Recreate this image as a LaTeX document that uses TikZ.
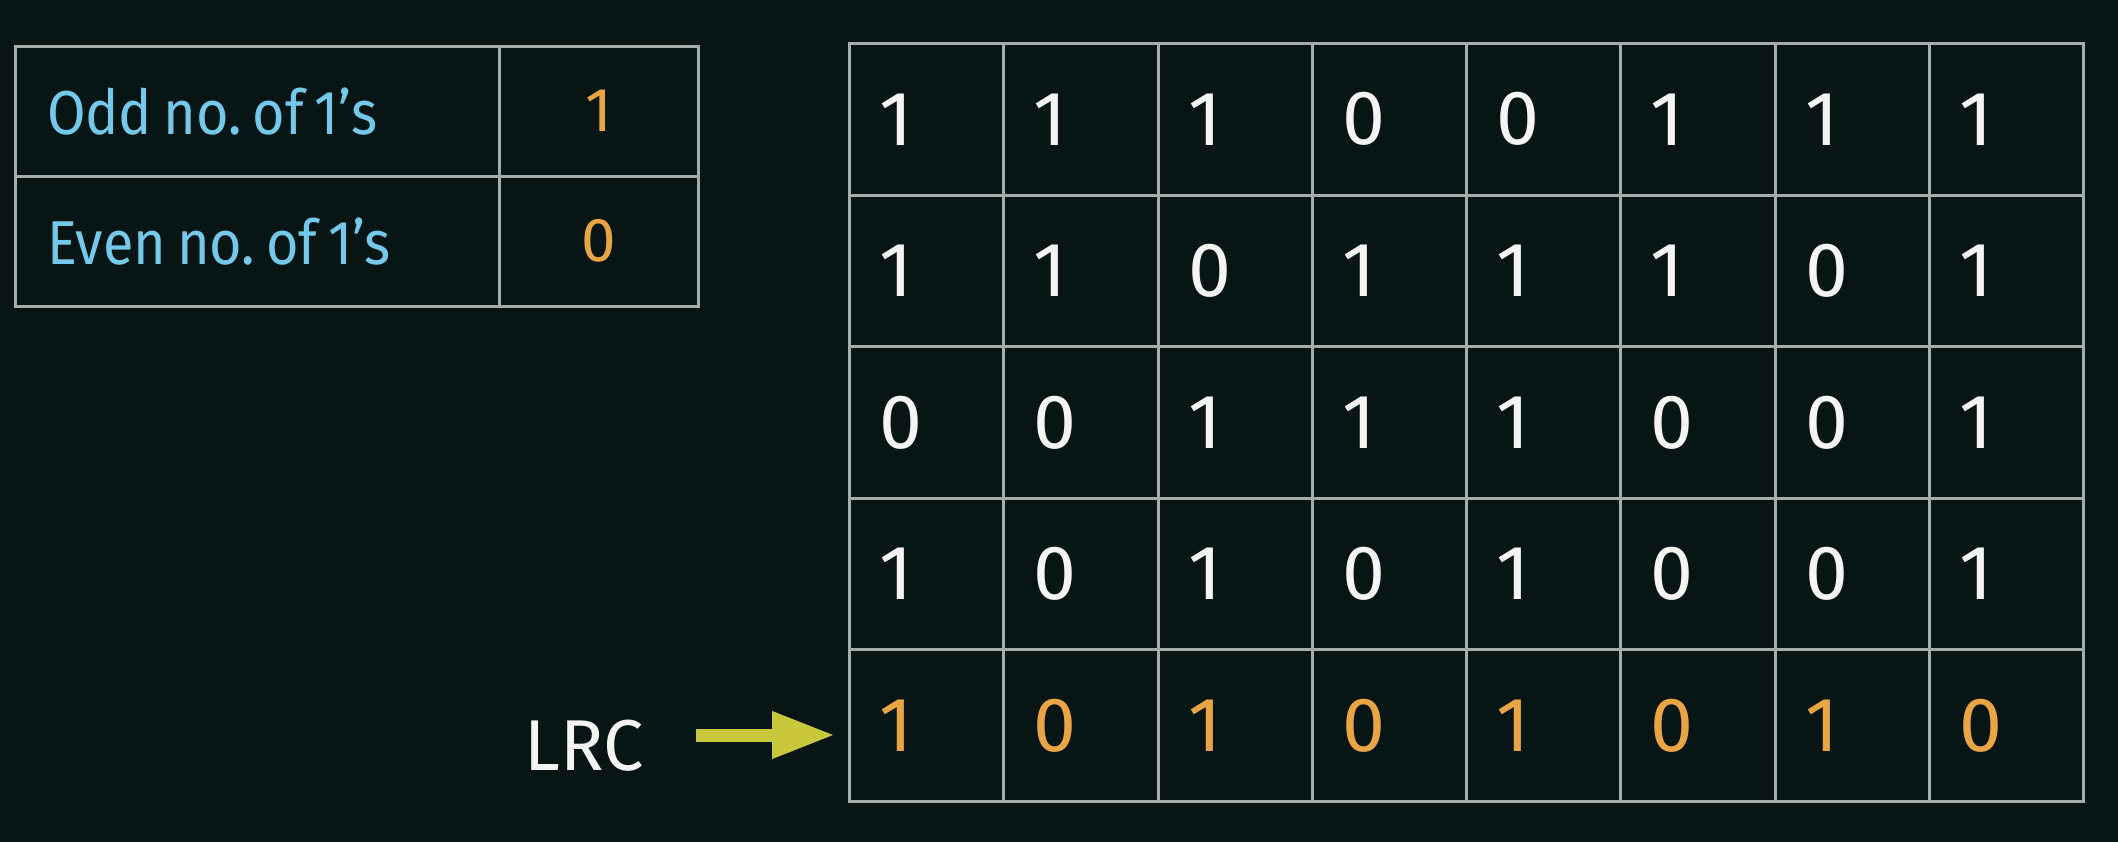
\documentclass[tikz,border=0pt]{standalone}
\usepackage{fontspec}
\setmainfont{Fira Sans}
\newfontfamily\lblfont[FakeStretch=0.9]{Fira Sans}
\newcommand\tightwords{\spaceskip=11pt\relax}
\frenchspacing
\usetikzlibrary{arrows.meta}
\definecolor{bg}{HTML}{081515}
\definecolor{gridc}{HTML}{A3ADAA}
\definecolor{orng}{HTML}{E9A444}
\definecolor{lblue}{HTML}{74C8EA}
\definecolor{ylw}{HTML}{C9C83C}
\definecolor{wht}{HTML}{F4F4F2}
\begin{document}
\begin{tikzpicture}[x=1pt,y=-1pt,
  cell/.style={draw=gridc, line width=3pt, minimum width=154.25pt, minimum height=151.6pt,
    inner xsep=30pt, inner ysep=0pt, text width=94.25pt, align=left, anchor=north west,
    font=\fontsize{77pt}{80pt}\selectfont, text=wht},
  lrccell/.style={cell, text=orng},
  lblcell/.style={draw=gridc, line width=3pt, minimum width=484.5pt, minimum height=130pt,
    inner xsep=32pt, inner ysep=0pt, text width=420.5pt, align=left, anchor=north west,
    font=\lblfont\fontsize{62pt}{66pt}\selectfont, text=lblue},
  valcell/.style={draw=gridc, line width=3pt, minimum width=199pt, minimum height=130pt,
    inner sep=0pt, anchor=north west, font=\fontsize{62pt}{66pt}\selectfont, text=orng},
  lrcarrow/.style={draw=ylw, line width=13pt, -{Triangle[width=44pt,length=63pt]}, shorten >=13pt}
]
\fill[bg] (0,0) rectangle (2118,842);
\useasboundingbox (0,0) rectangle (2118,842);

% left table
\node[lblcell] (odd)  at (13.5,44.6) {\tightwords Odd no. of 1’s};
\node[valcell] (oddv) at (498,44.6) {1};
\node[lblcell] (even) at (13.5,174.6) {\tightwords Even no. of 1’s};
\node[valcell] (evenv) at (498,174.6) {0};

% grid
\foreach \r/\vals in {1/{1,1,1,0,0,1,1,1},2/{1,1,0,1,1,1,0,1},3/{0,0,1,1,1,0,0,1},4/{1,0,1,0,1,0,0,1}}{
  \foreach \v [count=\c] in \vals{
    \node[cell] (r\r c\c) at ({848+(\c-1)*154.25},{42+(\r-1)*151.6}) {\v};
  }
}
\foreach \v [count=\c] in {1,0,1,0,1,0,1,0}{
  \node[lrccell] (r5c\c) at ({848+(\c-1)*154.25},{42+4*151.6}) {\v};
}

% LRC label and arrow
\node[text=wht, font=\fontsize{72pt}{76pt}\selectfont, inner sep=0pt] (lrc) at (584,746) {LRC};
\coordinate (lrcstart) at (696,735);
\draw[lrcarrow] (lrcstart) -- (lrcstart -| r5c1.west);
\end{tikzpicture}
\end{document}
